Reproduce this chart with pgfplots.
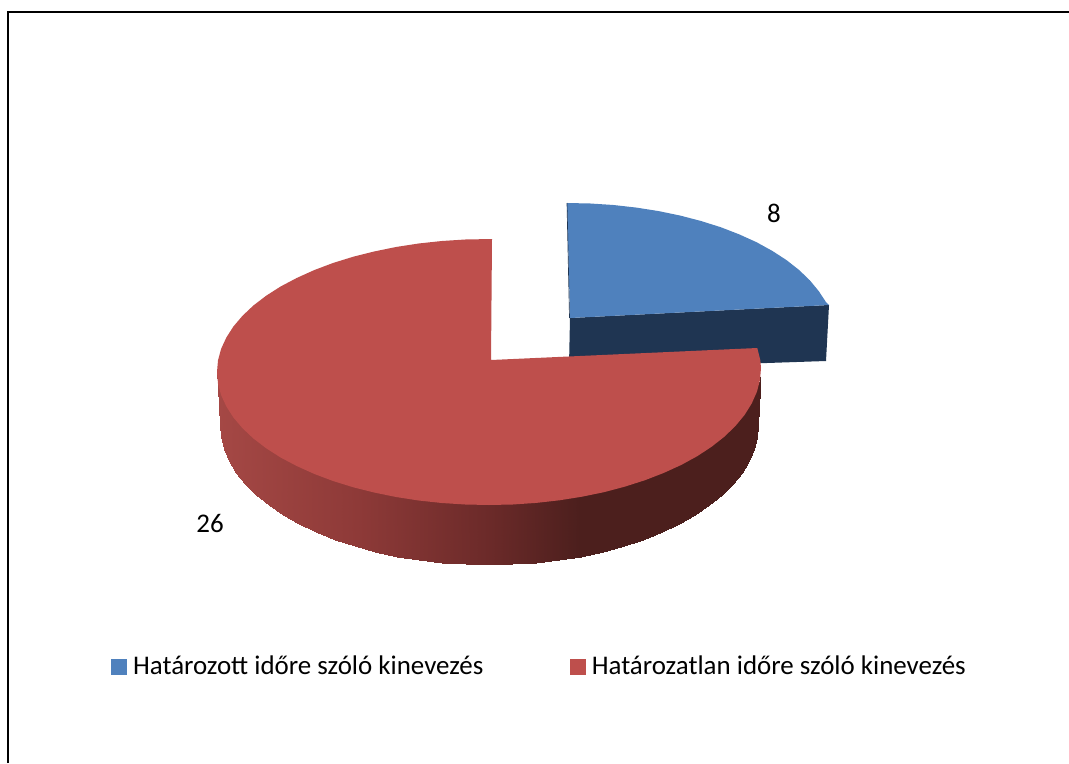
\documentclass[border=0pt]{standalone}
\usepackage{pgfplots}
\pgfplotsset{compat=1.18}
\usepackage{fontspec}
\setmainfont{Carlito}
\definecolor{blueTop}{HTML}{4F81BD}
\definecolor{blueSide}{HTML}{1F3552}
\definecolor{redTop}{HTML}{BE4F4C}
\begin{document}
\begin{tikzpicture}
\begin{axis}[
  scale only axis, width=801.75pt, height=572.25pt,
  xmin=0, xmax=1069, ymin=0, ymax=763, y dir=reverse,
  hide axis, clip=true,
  colormap={redside}{rgb255(0pt)=(165,72,69) rgb255(14pt)=(142,58,56) rgb255(27.3pt)=(107,42,41) rgb255(36.3pt)=(76,31,29) rgb255(54.4pt)=(76,31,29)},
  point meta min=217, point meta max=761,
  legend columns=2,
  legend style={draw=none, fill=none, at={(axis cs:111,666.5)}, anchor=west,
    font=\fontsize{20.2pt}{22pt}\selectfont, /tikz/every even column/.append style={column sep=63pt}, inner sep=0pt},
  legend cell align=left,
]
\addlegendimage{legend image code/.code={\fill[blueTop] (0pt,-5.6pt) rectangle (11.2pt,5.6pt); \path[draw=none] (0pt,0pt) -- (14.2pt,0pt);}}
\addlegendentry{Határozott időre szóló kinevezés}
\addlegendimage{legend image code/.code={\fill[redTop] (0pt,-5.6pt) rectangle (11.2pt,5.6pt); \path[draw=none] (0pt,0pt) -- (14.2pt,0pt);}}
\addlegendentry{Határozatlan időre szóló kinevezés}
% frame
\addplot[black, line width=1.5pt, forget plot] coordinates {(8,763) (8,12) (1069,12)};
% blue slice: side, then top
\addplot[draw=none, fill=blueSide, forget plot] coordinates {(570,318) (829,305) (826,361) (767,363) (569,366)};
\addplot[draw=none, fill=blueTop, forget plot] coordinates {(570,318) (567,203) (590.4,203.5) (613.5,205) (636.4,207.6) (658.7,211.1) (680.3,215.6) (701,221) (720.7,227.2) (739.3,234.4) (756.5,242.2) (772.3,250.9) (786.5,260.1) (799.1,270) (809.9,280.4) (818.8,291.2) (825.9,302) (829,305)};
\addplot[blueSide, line width=0.5pt, forget plot] coordinates {(567,203) (569.5,318)};
% red slice: side as a mesh (two rows), colour follows x
\addplot[surf, shader=interp, mesh/rows=2, point meta=x, forget plot] coordinates {
(217,369) (218,380.6) (221.1,392.1) (226.3,403.4) (233.4,414.5) (242.5,425.2) (253.4,435.5) (266.2,445.3) (280.6,454.5) (296.7,463) (314.2,470.9) (333,478) (353,484.2) (374.1,489.5) (396,494) (418.6,497.5) (441.8,500) (465.3,501.5) (489,502)
(512.7,501.5) (536.2,499.9) (559.4,497.3) (582,493.7) (603.9,489.2) (625,483.6) (645,477.2) (663.8,469.9) (681.3,461.9) (697.4,453.1) (711.8,443.6) (724.6,433.5) (735.5,422.9) (744.6,411.9) (751.7,400.5) (756.9,388.8) (759.5,380) (760.5,372)

(220,425) (221,437.2) (224.1,449.3) (229.2,461.2) (236.2,472.9) (245.2,484.2) (256,495) (268.6,505.3) (282.9,515) (298.8,524) (316.1,532.2) (334.7,539.7) (354.5,546.2) (375.3,551.9) (397,556.5) (419.4,560) (442.3,562.5) (465.6,564) (489,564.5)
(512.4,564) (535.7,562.5) (558.6,560) (581,556.5) (602.7,551.9) (623.5,546.2) (643.3,539.7) (661.9,532.2) (679.2,524) (695.1,515) (709.4,505.3) (722,495) (732.8,484.2) (741.8,472.9) (748.8,461.2) (753.9,449.3) (757,437.2) (758,425)
};
% red slice: top
\addplot[draw=none, fill=redTop, forget plot] coordinates {(491,360) (757.3,348) (760.3,360) (761,368) (760,379.9) (756.9,391.8) (751.7,403.5) (744.6,414.9) (735.5,425.9) (724.6,436.5) (711.8,446.6) (697.4,456.1) (681.3,464.9) (663.8,472.9) (645,480.2) (625,486.6) (603.9,492.2) (582,496.7) (559.4,500.3) (536.2,502.9) (512.7,504.5) (489,505)
(465.3,504.5) (441.8,503) (418.6,500.5) (396,497) (374.1,492.5) (353,487.2) (333,481) (314.2,473.9) (296.7,466) (280.6,457.5) (266.2,448.3) (253.4,438.5) (242.5,428.2) (233.4,417.5) (226.3,406.4) (221.1,395.1) (218,383.6) (217,372)
(218,360.4) (221.1,348.9) (226.3,337.6) (233.4,326.5) (242.5,315.8) (253.4,305.5) (266.2,295.7) (280.6,286.5) (296.7,278) (314.2,270.1) (333,263) (353,256.8) (374.1,251.5) (396,247) (418.6,243.5) (441.8,241) (465.3,239.5) (492,239)};
% value labels
\node[font=\fontsize{20.2pt}{22pt}\selectfont] at (axis cs:774,213) {8};
\node[font=\fontsize{20.2pt}{22pt}\selectfont] at (axis cs:210,523) {26};
\end{axis}
\pgfresetboundingbox
\path[use as bounding box] (current axis.south west) rectangle (current axis.north east);
\end{tikzpicture}
\end{document}
